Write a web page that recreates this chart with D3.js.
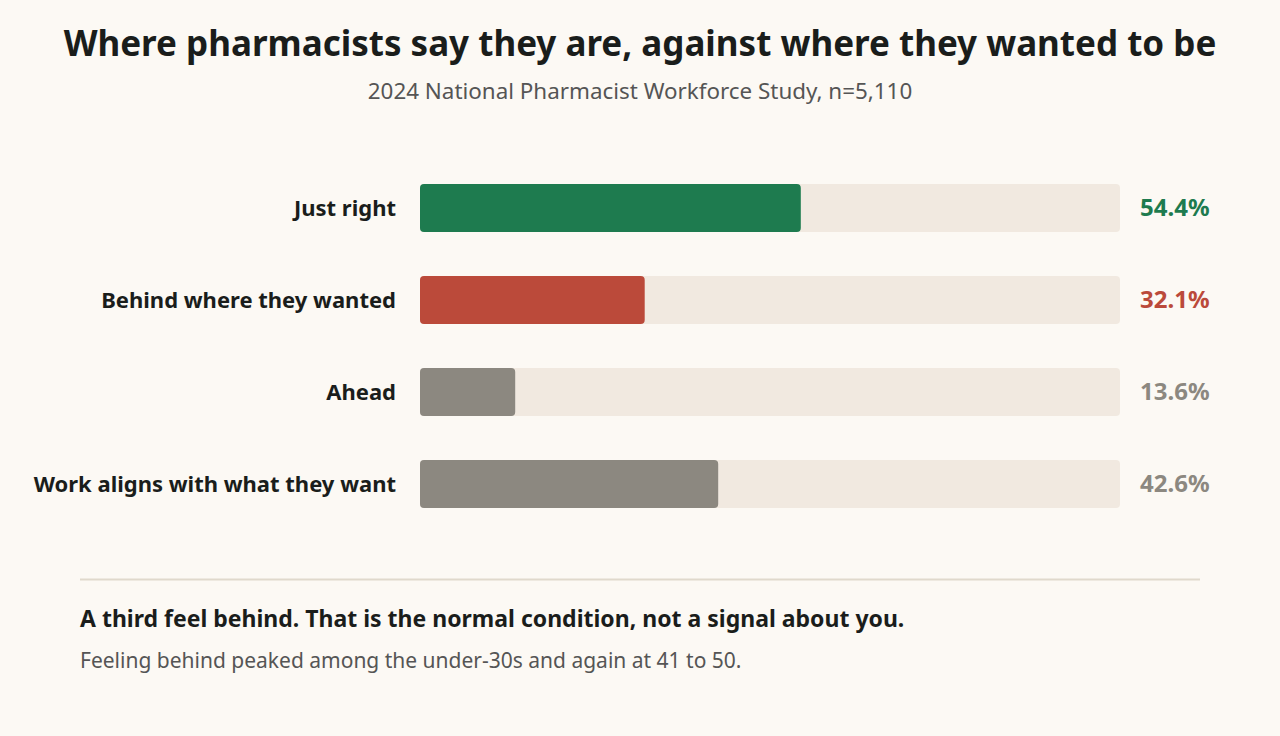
<!DOCTYPE html>
<html>
<head>
<meta charset="utf-8">
<script src="https://cdn.jsdelivr.net/npm/d3@7"></script>
<style>
  body { margin: 0; background: #fcf9f4; font-family: "Noto Sans", sans-serif; }
</style>
</head>
<body>
<div id="chart"></div>
<script>
// Survey answers, in display order
const data = [
    { label: "Just right", value: 54.4, color: "#1e7b4f" },
    { label: "Behind where they wanted", value: 32.1, color: "#bb4a3a" },
    { label: "Ahead", value: 13.6, color: "#8c8880" },
    { label: "Work aligns with what they want", value: 42.6, color: "#8c8880" }
];

const width = 1280, height = 736;
const svg = d3.select("#chart").append("svg")
    .attr("width", width)
    .attr("height", height);

svg.append("rect").attr("width", width).attr("height", height).attr("fill", "#fcf9f4");

// Title and subtitle
svg.append("text")
    .attr("x", 640).attr("y", 56)
    .attr("text-anchor", "middle")
    .attr("font-size", 35).attr("font-weight", 700)
    .attr("fill", "#1a1d1b")
    .text("Where pharmacists say they are, against where they wanted to be");

svg.append("text")
    .attr("x", 640).attr("y", 99)
    .attr("text-anchor", "middle")
    .attr("font-size", 22.4)
    .attr("fill", "#555")
    .text("2024 National Pharmacist Workforce Study, n=5,110");

// Scales: 48px bars on a 92px step
const x = d3.scaleLinear().domain([0, 100]).range([420, 1120]);
const y = d3.scaleBand().domain(data.map(d => d.label)).range([184, 508]).paddingInner(44 / 92);

const rows = svg.selectAll("g.row")
    .data(data)
    .enter()
    .append("g")
    .attr("class", "row");

// Background track
rows.append("rect")
    .attr("x", x(0)).attr("y", d => y(d.label))
    .attr("width", x(100) - x(0)).attr("height", y.bandwidth())
    .attr("rx", 4)
    .attr("fill", "#f1e9e0");

// Value bar
rows.append("rect")
    .attr("x", x(0)).attr("y", d => y(d.label))
    .attr("width", d => x(d.value) - x(0)).attr("height", y.bandwidth())
    .attr("rx", 4)
    .attr("fill", d => d.color);

// Category labels
rows.append("text")
    .attr("x", 396).attr("y", d => y(d.label) + y.bandwidth() / 2)
    .attr("dy", "0.35em")
    .attr("text-anchor", "end")
    .attr("font-size", 22).attr("font-weight", 700)
    .attr("fill", "#1a1d1b")
    .text(d => d.label);

// Value labels
rows.append("text")
    .attr("x", 1140).attr("y", d => y(d.label) + y.bandwidth() / 2)
    .attr("dy", "0.35em")
    .attr("font-size", 24).attr("font-weight", 700)
    .attr("fill", d => d.color)
    .text(d => d.value.toFixed(1) + "%");

// Divider and takeaway
svg.append("line")
    .attr("x1", 80).attr("x2", 1200).attr("y1", 579.5).attr("y2", 579.5)
    .attr("stroke", "#e0d9cc").attr("stroke-width", 2);

svg.append("text")
    .attr("x", 80).attr("y", 627)
    .attr("font-size", 23).attr("font-weight", 700)
    .attr("fill", "#1a1d1b")
    .text("A third feel behind. That is the normal condition, not a signal about you.");

svg.append("text")
    .attr("x", 80).attr("y", 668)
    .attr("font-size", 21)
    .attr("fill", "#555")
    .text("Feeling behind peaked among the under-30s and again at 41 to 50.");
</script>
</body>
</html>
